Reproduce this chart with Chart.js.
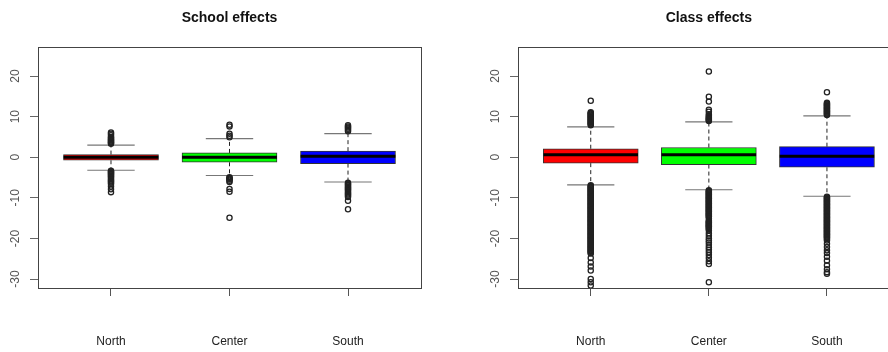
<!DOCTYPE html>
<html><head><meta charset="utf-8">
<script src="https://cdn.jsdelivr.net/npm/chart.js@4"></script>
<style>
html,body{margin:0;padding:0;width:888px;height:352px;overflow:hidden;background:#fff;}
#wrapL{position:absolute;left:0;top:0;width:450px;height:352px;}
#wrapR{position:absolute;left:445px;top:0;width:460px;height:352px;}
</style></head><body>
<div id="wrapL"><canvas id="left" width="450" height="352"></canvas></div>
<div id="wrapR"><canvas id="right" width="460" height="352"></canvas></div>
<script>
// ---------- data ----------
const categories = ['North', 'Center', 'South'];
const yTicks = [-30, -20, -10, 0, 10, 20];
const boxColors = ['#ff0000', '#00ff00', '#0000ff'];

// School effects
const schoolQ1 = [-0.74, -1.24, -1.56];
const schoolMedian = [0.0, 0.0, 0.25];
const schoolQ3 = [0.66, 1.07, 1.5];
const schoolWhiskerLow = [-3.2, -4.5, -6.1];
const schoolWhiskerHigh = [3.0, 4.6, 5.8];
const schoolOutNorth = [3.3, 3.5, 3.7, 3.9, 4.1, 4.3, 4.5, 4.8, 5.0, 5.4, 5.8, 6.1,
  -3.3, -3.5, -3.7, -3.9, -4.1, -4.3, -4.6, -4.8, -5.1, -5.4, -5.7, -6.0, -6.3, -6.6, -7.2, -7.9, -8.6];
const schoolOutCenter = [4.9, 5.3, 5.8, 7.6, 8.0,
  -4.9, -5.1, -5.3, -5.5, -5.8, -6.1, -7.8, -8.5, -14.9];
const schoolOutSouth = [6.4, 6.7, 7.0, 7.3, 7.6, 7.9,
  -6.3, -6.5, -6.8, -7.0, -7.3, -7.5, -7.8, -8.0, -8.3, -8.6, -8.9, -9.2, -9.5, -9.8, -10.7, -12.8];

// Class effects
const classQ1 = [-1.45, -1.8, -2.47];
const classMedian = [0.62, 0.6, 0.25];
const classQ3 = [2.1, 2.4, 2.6];
const classWhiskerLow = [-6.8, -8.0, -9.6];
const classWhiskerHigh = [7.5, 8.7, 10.2];
const classOutNorth = [7.9, 8.1, 8.3, 8.5, 8.7, 8.9, 9.1, 9.3, 9.5, 9.7, 9.9, 10.1, 10.3, 10.5, 10.7, 10.9, 11.1, 13.9,
  -6.9, -7.1, -7.3, -7.5, -7.7, -7.9, -8.1, -8.3, -8.5, -8.7, -8.9, -9.1, -9.3, -9.5, -9.7, -9.9,
  -10.1, -10.3, -10.5, -10.7, -10.9, -11.1, -11.3, -11.5, -11.7, -11.9, -12.1, -12.3, -12.5, -12.7,
  -12.9, -13.1, -13.3, -13.5, -13.7, -13.9, -14.1, -14.3, -14.5, -14.7, -14.9, -15.1, -15.3, -15.5,
  -15.7, -15.9, -16.1, -16.3, -16.5, -16.7, -16.9, -17.1, -17.3, -17.5, -17.7, -17.9, -18.1, -18.3,
  -18.5, -18.7, -18.9, -19.1, -19.3, -19.5, -19.7, -19.9, -20.1, -20.3, -20.5, -20.7, -20.9, -21.1,
  -21.3, -21.5, -21.7, -21.9, -22.1, -22.3, -22.5, -22.7, -22.9, -23.1, -23.3, -23.5, -23.7,
  -24.8, -25.9, -26.9, -27.9, -30.0, -30.8, -31.6];
const classOutCenter = [8.9, 9.1, 9.3, 9.5, 9.7, 9.9, 10.2, 10.6, 11.2, 11.7, 13.7, 14.9, 21.1,
  -8.1, -8.3, -8.5, -8.7, -8.9, -9.1, -9.3, -9.5, -9.7, -9.9, -10.1, -10.3, -10.5, -10.7, -10.9,
  -11.1, -11.3, -11.5, -11.7, -11.9, -12.1, -12.3, -12.5, -12.7, -12.9, -13.1, -13.3, -13.5,
  -13.7, -13.9, -14.1, -14.3, -14.5, -14.7, -15.0, -15.6, -15.8, -16.0, -16.2, -16.4, -16.6,
  -16.8, -17.0, -17.2, -17.4, -17.7, -18.0,
  -18.7, -19.4, -20.0, -20.5, -21.0, -21.6, -22.2, -22.8, -23.4, -24.1, -24.8, -25.6, -26.3, -30.8];
const classOutSouth = [10.4, 10.6, 10.8, 11.0, 11.2, 11.4, 11.6, 11.8, 12.0, 12.2, 12.4, 12.6, 12.8, 13.0, 13.2, 13.4, 16.0,
  -9.7, -9.9, -10.1, -10.3, -10.5, -10.7, -10.9, -11.1, -11.3, -11.5, -11.7, -11.9, -12.1, -12.3,
  -12.5, -12.7, -12.9, -13.1, -13.3, -13.5, -13.7, -13.9, -14.1, -14.3, -14.5, -14.7, -14.9,
  -15.1, -15.3, -15.5, -15.7, -15.9, -16.1, -16.3, -16.5, -16.7, -16.9, -17.1, -17.3, -17.5,
  -17.7, -17.9, -18.1, -18.3, -18.5, -18.7, -18.9, -19.1, -19.3, -19.5, -19.7, -19.9, -20.2, -20.5,
  -21.3, -22.1, -22.9, -23.6, -24.5, -25.5, -26.6, -27.6, -28.3, -28.7];

// ---------- build ----------
const FONT = '"Liberation Sans", Arial, sans-serif';
const BOX_HALF = 0.4, CAP_HALF = 0.2;

function buildDatasets(q1, med, q3, wl, wh, outs) {
  const xs = categories.map((c, i) => i + 1);
  const boxes = xs.map((x, i) => ({ x: x, y: [q1[i], q3[i]] }));
  const whisk = [], caps = [], meds = [], pts = [];
  xs.forEach((x, i) => {
    whisk.push({ x: x, y: q3[i] }, { x: x, y: wh[i] }, { x: x, y: null },
               { x: x, y: q1[i] }, { x: x, y: wl[i] }, { x: x, y: null });
    caps.push({ x: x - CAP_HALF, y: wh[i] }, { x: x + CAP_HALF, y: wh[i] }, { x: x, y: null },
              { x: x - CAP_HALF, y: wl[i] }, { x: x + CAP_HALF, y: wl[i] }, { x: x, y: null });
    meds.push({ x: x - BOX_HALF, y: med[i] }, { x: x + BOX_HALF, y: med[i] }, { x: x, y: null });
    outs[i].forEach(v => pts.push({ x: x, y: v }));
  });
  return [
    { type: 'scatter', data: pts, order: 0, pointRadius: 2.6, pointBorderWidth: 1.3,
      pointBorderColor: '#222', pointBackgroundColor: 'rgba(0,0,0,0)', showLine: false },
    { type: 'line', data: meds, order: 1, borderColor: '#000', borderWidth: 3,
      pointRadius: 0, spanGaps: false, borderCapStyle: 'butt' },
    { type: 'line', data: caps, order: 2, borderColor: '#777', borderWidth: 1.2,
      pointRadius: 0, spanGaps: false },
    { type: 'bar', data: boxes, order: 3, backgroundColor: boxColors, borderColor: '#333',
      borderWidth: 1, borderSkipped: false, barThickness: 95 },
    { type: 'line', data: whisk, order: 4, borderColor: '#222', borderWidth: 1,
      borderDash: [4, 3], pointRadius: 0, spanGaps: false }
  ];
}

const framePlugin = {
  id: 'frame',
  afterDraw(chart) {
    const { ctx, chartArea: a } = chart;
    const ys = chart.scales.y;
    ctx.save();
    ctx.strokeStyle = '#444';
    ctx.lineWidth = 1;
    ctx.strokeRect(Math.round(a.left) + 0.5, Math.round(a.top) + 0.5,
                   Math.round(a.right - a.left), Math.round(a.bottom - a.top));
    ctx.fillStyle = '#555';
    ctx.font = '12px ' + FONT;
    ctx.textAlign = 'center';
    ctx.textBaseline = 'middle';
    yTicks.forEach(v => {
      const y = ys.getPixelForValue(v);
      ctx.save();
      ctx.translate(a.left - 22, y);
      ctx.rotate(-Math.PI / 2);
      ctx.fillText(String(v), 0, 0);
      ctx.restore();
    });
    ctx.restore();
  }
};

function makeChart(id, title, datasets, yAxisWidth, padRight) {
  return new Chart(document.getElementById(id), {
    type: 'bar',
    data: { datasets: datasets },
    plugins: [framePlugin],
    options: {
      responsive: false,
      animation: false,
      events: [],
      layout: { padding: { left: 0, right: padRight, top: 0, bottom: 0 } },
      plugins: {
        legend: { display: false },
        tooltip: { enabled: false },
        title: {
          display: true, text: title, fullSize: false, color: '#111',
          font: { family: FONT, size: 14, weight: 'bold' },
          padding: { top: 10, bottom: 20 }
        }
      },
      scales: {
        x: {
          type: 'linear', min: 0.384, max: 3.616, offset: false,
          afterBuildTicks: s => { s.ticks = categories.map((c, i) => ({ value: i + 1 })); },
          afterFit: s => { s.height = 64; },
          ticks: {
            autoSkip: false, maxRotation: 0, color: '#222', padding: 38,
            font: { family: FONT, size: 12 },
            callback: v => categories[v - 1]
          },
          grid: { display: true, offset: false, drawOnChartArea: false, drawTicks: true, tickLength: 8, color: '#555' },
          border: { display: false }
        },
        y: {
          type: 'linear', min: -32.2, max: 27.2,
          afterBuildTicks: s => { s.ticks = yTicks.map(v => ({ value: v })); },
          afterFit: s => { s.width = yAxisWidth; },
          ticks: { display: false },
          grid: { display: true, offset: false, drawOnChartArea: false, drawTicks: true, tickLength: 8, color: '#666' },
          border: { display: false }
        }
      }
    }
  });
}

makeChart('left', 'School effects',
  buildDatasets(schoolQ1, schoolMedian, schoolQ3, schoolWhiskerLow, schoolWhiskerHigh,
                [schoolOutNorth, schoolOutCenter, schoolOutSouth]), 38, 29);
makeChart('right', 'Class effects',
  buildDatasets(classQ1, classMedian, classQ3, classWhiskerLow, classWhiskerHigh,
                [classOutNorth, classOutCenter, classOutSouth]), 73, 4);
</script>
</body></html>
